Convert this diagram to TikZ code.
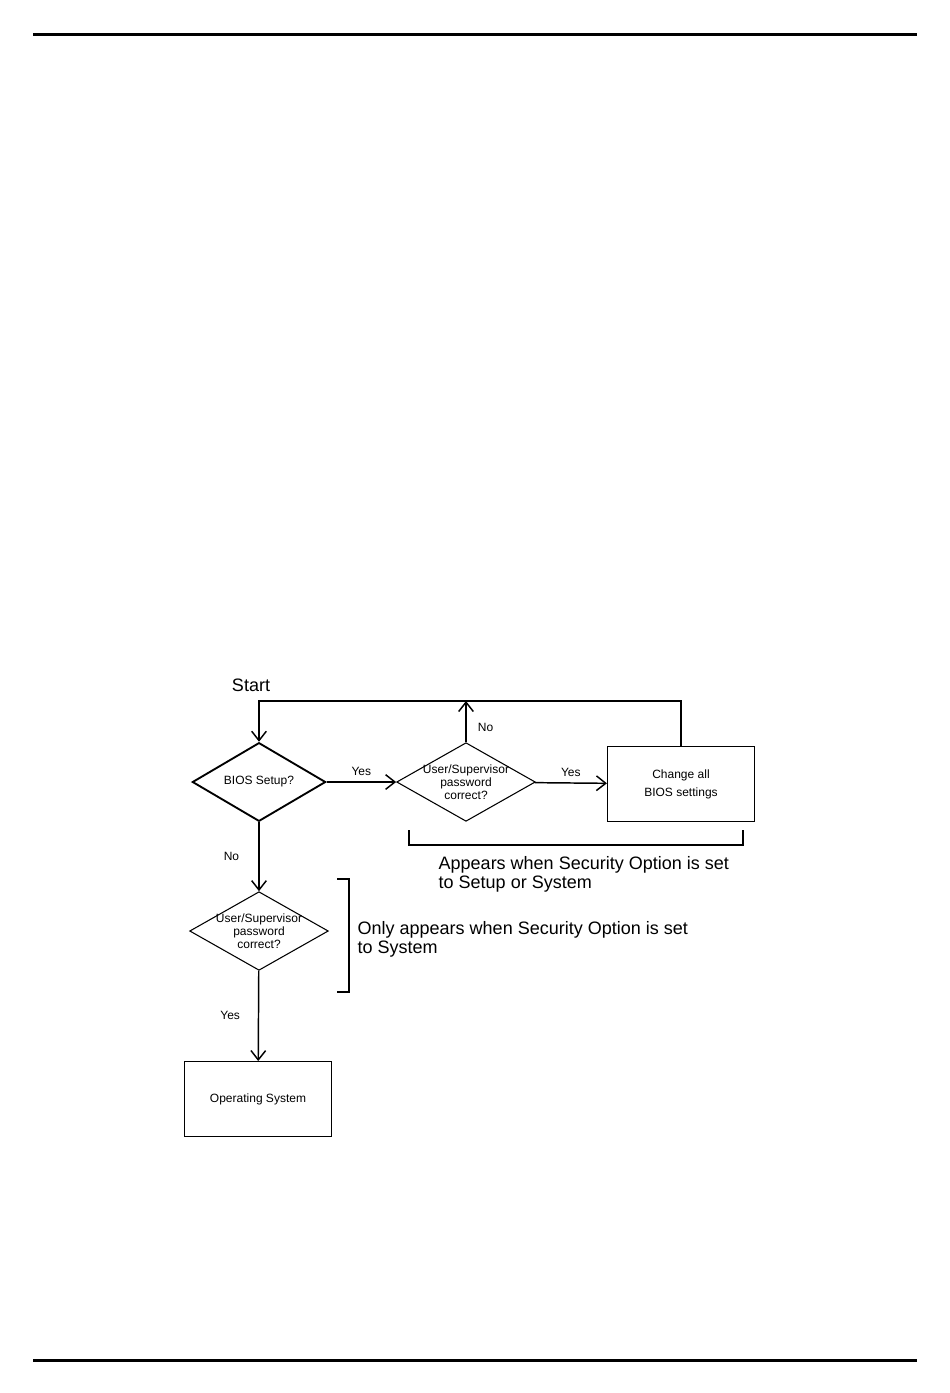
\documentclass[tikz,border=0pt]{standalone}
\usepackage{fontspec}
\setmainfont{Liberation Sans}
\usetikzlibrary{shapes.geometric,arrows.meta}

\begin{document}
\begin{tikzpicture}[x=0.75pt,y=-0.75pt]
      \tikzstyle{losange}=[diamond, draw, aspect=1.75, inner xsep=-6pt, inner ysep=-2pt, minimum width=104pt, minimum height=59pt, align=center, font=\fontsize{9}{9.75}\selectfont]
      \tikzstyle{boite}=[rectangle, draw, line width=1.1pt, minimum width=110pt, minimum height=56pt, align=center, font=\fontsize{9}{13.5}\selectfont]
      \tikzstyle{fleche}=[-{Straight Barb[length=7pt,width=11pt]}, line width=1.1pt]
      \tikzstyle{petit}=[font=\fontsize{9}{10}\selectfont]
      \tikzstyle{grand}=[align=left, font=\fontsize{13.5}{14.3}\selectfont]

      \useasboundingbox (0,0) rectangle (950,1393);
      \draw[line width=2.25pt] (33,34) -- (917,34);
      \draw[line width=2.25pt] (33,1360) -- (917,1360);

      \node[grand] (Start) at (251,685) {Start};
      \node[losange, line width=1.4pt, minimum width=100pt] (Bios) at (259,782) {BIOS Setup?};
      \node[losange, line width=0.8pt] (Mdp) at (466,782) {User/Supervisor\\password\\correct?};
      \node[boite] (Chg) at (681,784) {Change all\\BIOS settings};
      \node[losange, line width=0.8pt] (Mdp2) at (259,931) {User/Supervisor\\password\\correct?};
      \node[boite, line width=0.9pt] (OS) at (258,1099) {Operating System};
      \coordinate (Haut) at (259,701);

      \draw[fleche] (Bios) -- node[petit, above=1pt] (OuiA) {Yes} (Mdp);
      \draw[fleche] (Mdp) -- node[petit, above=1pt] (OuiB) {Yes} (Chg);
      \draw[fleche] (Mdp.north) -- node[petit, pos=0.35, right=5pt] (NonA) {No} (Mdp.north |- Haut);
      \draw[fleche] (Chg.north) |- (Haut) -- (Bios.north);
      \draw[fleche] (Bios) -- node[petit, left=11pt] (NonB) {No} (Mdp2);
      \draw[fleche] (Mdp2) -- node[petit, left=10pt] (OuiC) {Yes} (OS);

      \draw[line width=0.8pt] (409,830) -- (409,845) -- (743,845) -- (743,830);
      \node[grand, anchor=west] (Menu) at (434,874) {Appears when Security Option is set\\to Setup or System};
      \draw[line width=1.3pt] (337,879) -- (349,879) -- (349,992) -- (337,992);
      \node[grand, anchor=west] (Boot) at (353,939) {Only appears when Security Option is set\\to System};
    \end{tikzpicture}
\end{document}
